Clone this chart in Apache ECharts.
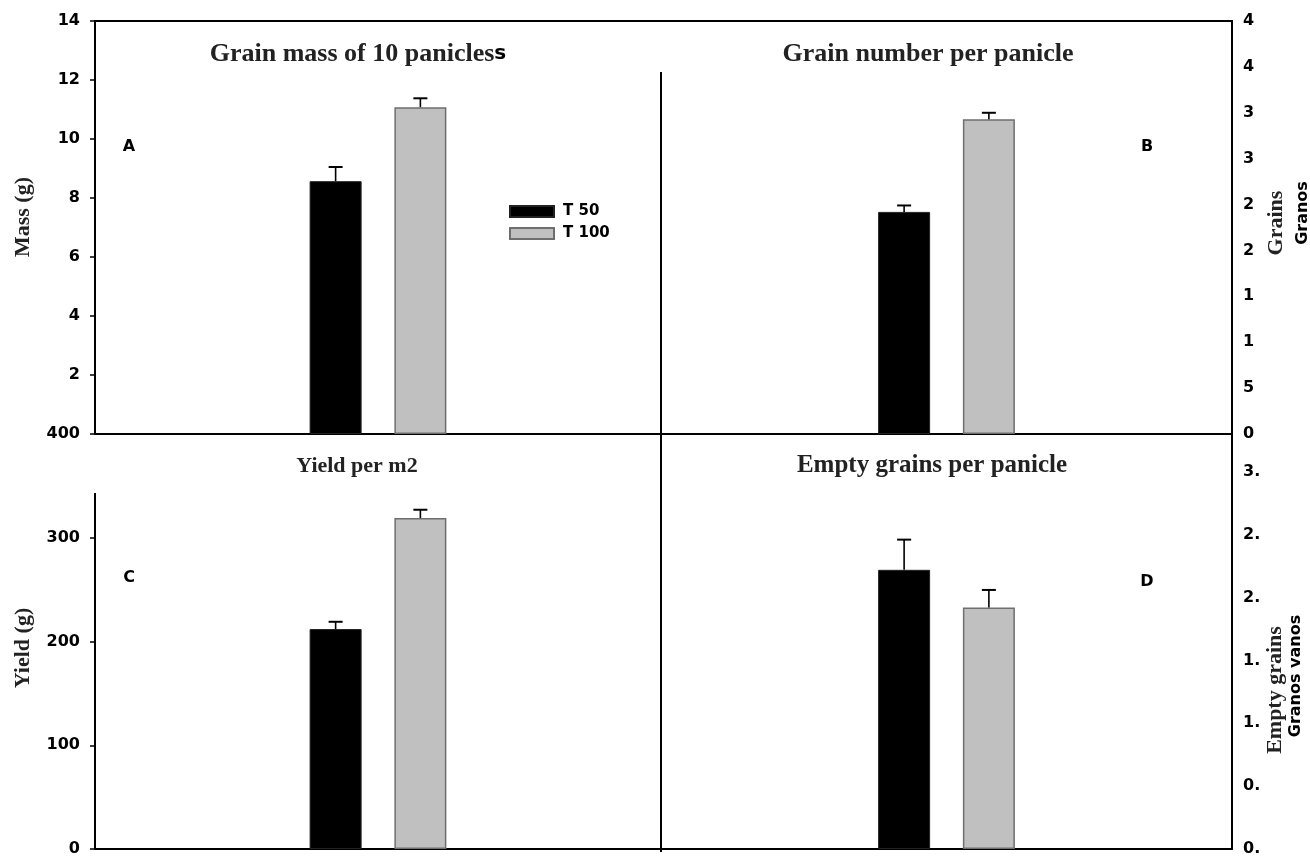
<!DOCTYPE html>
<html>
<head>
<meta charset="utf-8">
<script src="https://cdn.jsdelivr.net/npm/echarts@6/dist/echarts.min.js"></script>
<style>
  html, body { margin: 0; padding: 0; background: #fff; }
  #chart { width: 1310px; height: 857px; }
</style>
</head>
<body>
<div id="chart"></div>
<script>
// Treatments (one bar each per panel)
const treatments = ['T 50', 'T 100'];

// A: grain mass of 10 panicles (g)
const massMean = [8.57, 11.08];
const massErr = [0.48, 0.30];
const massTicks = [0, 2, 4, 6, 8, 10, 12, 14];

// B: grain number per panicle
const grainMean = [24.2, 34.3];
const grainErr = [0.7, 0.7];
const grainTicks = [0, 5, 10, 15, 20, 25, 30, 35, 40, 45];

// C: yield per m2 (g)
const yieldMean = [212, 319];
const yieldErr = [7, 8];
const yieldTicks = [0, 100, 200, 300, 400];

// D: empty grains per panicle
const emptyMean = [2.22, 1.92];
const emptyErr = [0.24, 0.14];
const emptyTicks = [0, 0.5, 1.0, 1.5, 2.0, 2.5, 3.0];
const emptyAxisMax = 3.3;

const SANS = 'DejaVu Sans';
const SERIF = 'Liberation Serif';
const BAR_W = 52;
const BAR_GAP = 0.63;
const HALF_STEP = (BAR_W + BAR_W * BAR_GAP) / 2;

const barStyles = [
  { color: '#000000', borderColor: '#222222', borderWidth: 1 },
  { color: '#c0c0c0', borderColor: '#6e6e6e', borderWidth: 1.5 }
];

const grids = [
  { left: 95, top: 21, width: 566, height: 413 },   // A
  { left: 661, top: 21, width: 571, height: 413 },  // B
  { left: 95, top: 434, width: 566, height: 416 },  // C
  { left: 661, top: 434, width: 571, height: 418 }  // D
];

const frameLine = { show: true, onZero: false, lineStyle: { color: '#000', width: 2 } };
const tickFont = { fontFamily: SANS, fontWeight: 'bold', fontSize: 16, color: '#000' };

// bottom category axes (0..3), then top frame axes for A and B
const xAxes = grids.map((g, i) => ({
  gridIndex: i, type: 'category', data: [''],
  axisLine: frameLine, axisTick: { show: false }, axisLabel: { show: false },
  splitLine: { show: false }
}));
[0, 1].forEach(i => xAxes.push({
  gridIndex: i, type: 'category', position: 'top', data: [''],
  axisLine: frameLine, axisTick: { show: false }, axisLabel: { show: false }
}));

function leftAxis(i, ticks, showAxisLine, showMin) {
  return {
    gridIndex: i, type: 'value', position: 'left',
    min: ticks[0], max: ticks[ticks.length - 1], interval: ticks[1] - ticks[0],
    axisLine: Object.assign({}, frameLine, { show: showAxisLine }),
    axisTick: { show: true, length: 5, lineStyle: { color: '#000', width: 1.5 } },
    splitLine: { show: false },
    axisLabel: Object.assign({ margin: 15, showMinLabel: showMin }, tickFont)
  };
}
function rightAxis(i, ticks, max, labelWidth, fmt, showMax) {
  return {
    gridIndex: i, type: 'value', position: 'right',
    min: ticks[0], max: max, interval: ticks[1] - ticks[0],
    axisLine: frameLine,
    axisTick: { show: false },
    splitLine: { show: false },
    axisLabel: Object.assign({
      margin: 11, width: labelWidth, overflow: 'truncate', ellipsis: '',
      showMaxLabel: showMax, formatter: fmt
    }, tickFont)
  };
}

const yAxes = [
  leftAxis(0, massTicks, true, false),
  rightAxis(1, grainTicks, grainTicks[grainTicks.length - 1], 15, v => String(v), true),
  leftAxis(2, yieldTicks, false, true),
  rightAxis(3, emptyTicks, emptyAxisMax, 21, v => v.toFixed(1), false)
];

function errorRenderer(offset) {
  return function (params, api) {
    const base = api.coord([api.value(0), api.value(1)]);
    const tip = api.coord([api.value(0), api.value(1) + api.value(2)]);
    const x = base[0] + offset;
    return {
      type: 'group',
      children: [
        { type: 'line', shape: { x1: x, y1: base[1], x2: x, y2: tip[1] },
          style: { stroke: '#000', lineWidth: 1.6 } },
        { type: 'line', shape: { x1: x - 7, y1: tip[1], x2: x + 7, y2: tip[1] },
          style: { stroke: '#000', lineWidth: 2 } }
      ]
    };
  };
}

const panels = [
  { mean: massMean, err: massErr },
  { mean: grainMean, err: grainErr },
  { mean: yieldMean, err: yieldErr },
  { mean: emptyMean, err: emptyErr }
];

const series = [];
panels.forEach((p, i) => {
  treatments.forEach((name, k) => {
    series.push({
      type: 'bar', name: name, xAxisIndex: i, yAxisIndex: i,
      data: [p.mean[k]], barWidth: BAR_W, barGap: (BAR_GAP * 100) + '%',
      itemStyle: barStyles[k], emphasis: { disabled: true }
    });
  });
  treatments.forEach((name, k) => {
    series.push({
      type: 'custom', xAxisIndex: i, yAxisIndex: i, z: 5,
      encode: { x: 0, y: 1 },
      data: [[0, p.mean[k], p.err[k]]],
      renderItem: errorRenderer(k === 0 ? -HALF_STEP : HALF_STEP)
    });
  });
});

function label(text, x, y, font, rotation) {
  return {
    type: 'text', x: x, y: y, rotation: rotation || 0, silent: true,
    style: Object.assign({
      text: text, fill: '#000', align: 'center', verticalAlign: 'middle'
    }, font)
  };
}
const serif = size => ({ fontFamily: SERIF, fontWeight: 'bold', fontSize: size, fill: '#222' });
const sans = size => ({ fontFamily: SANS, fontWeight: 'bold', fontSize: size });

const graphic = [
  // divider between left and right panels
  { type: 'line', shape: { x1: 661, y1: 72, x2: 661, y2: 852 }, style: { stroke: '#000', lineWidth: 2 }, silent: true },
  // yield axis line
  { type: 'line', shape: { x1: 95, y1: 493, x2: 95, y2: 850 }, style: { stroke: '#000', lineWidth: 2 }, silent: true },
  // panel titles
  {
    type: 'text', x: 358, y: 54, silent: true,
    style: {
      text: '{a|Grain mass of 10 panicles}{b|s}', align: 'center', verticalAlign: 'middle',
      rich: {
        a: { fontFamily: SERIF, fontWeight: 'bold', fontSize: 26, fill: '#222' },
        b: { fontFamily: SANS, fontWeight: 'bold', fontSize: 20, fill: '#000' }
      }
    }
  },
  label('Grain number per panicle', 928, 54, serif(26)),
  label('Yield per m2', 357, 466, serif(22)),
  label('Empty grains per panicle', 932, 466, serif(25)),
  // panel letters
  label('A', 129, 147, sans(16)),
  label('B', 1147, 147, sans(16)),
  label('C', 129, 578, sans(16)),
  label('D', 1147, 582, sans(16)),
  // axis names
  label('Mass (g)', 23, 217, serif(22), Math.PI / 2),
  label('Yield (g)', 23, 648, serif(22), Math.PI / 2),
  label('Grains', 1276, 223, serif(22), Math.PI / 2),
  label('Granos', 1303, 213, sans(16), Math.PI / 2),
  label('Empty grains', 1275, 690, serif(22), Math.PI / 2),
  label('Granos vanos', 1296, 676, sans(16), Math.PI / 2)
];

const chart = echarts.init(document.getElementById('chart'), null, { renderer: 'canvas' });
chart.setOption({
  animation: false,
  backgroundColor: '#fff',
  grid: grids,
  xAxis: xAxes,
  yAxis: yAxes,
  legend: {
    data: treatments, orient: 'vertical', left: 504, top: 199,
    itemWidth: 44, itemHeight: 11, itemGap: 7, icon: 'rect', selectedMode: false,
    textStyle: { fontFamily: SANS, fontWeight: 'bold', fontSize: 15, color: '#000', padding: [0, 0, 0, 4] }
  },
  series: series,
  graphic: graphic
});
</script>
</body>
</html>
